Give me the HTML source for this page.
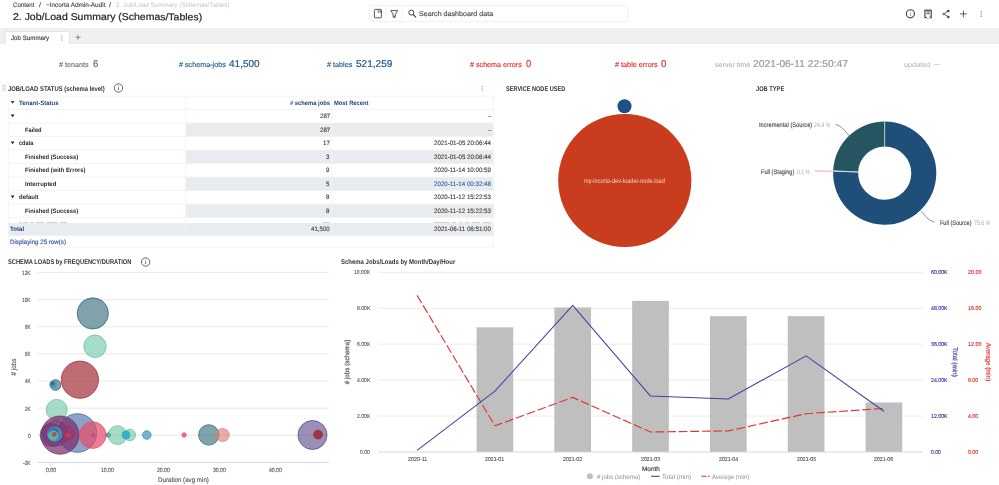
<!DOCTYPE html>
<html lang="en"><head><meta charset="utf-8"><title>2. Job/Load Summary (Schemas/Tables)</title>
<style>
html,body{margin:0;padding:0;background:#fff;}
body{width:999px;height:485px;position:relative;overflow:hidden;font-family:"Liberation Sans",sans-serif;}
svg{position:absolute;left:0;top:0;}
#tx{position:absolute;left:0;top:0;width:999px;height:485px;will-change:transform;}
.t{position:absolute;white-space:pre;line-height:12px;height:12px;transform-origin:0 50%;font-family:"Liberation Sans",sans-serif;}
</style></head>
<body>
<svg width="999" height="485" viewBox="0 0 999 485">
<rect x="0" y="28" width="999" height="15.3" fill="#f0f0f0"/>
<rect x="0" y="42.7" width="999" height="0.8" fill="#e1e4e8"/>
<path d="M5.1 43.6 V33.2 a1.8 1.8 0 0 1 1.8 -1.8 H67.5 a1.8 1.8 0 0 1 1.8 1.8 V43.6 Z" fill="#fff" stroke="#dadee3" stroke-width="0.8"/>
<rect x="5.5" y="42.4" width="63.4" height="1.8" fill="#fff"/>
<circle cx="61.8" cy="35.699999999999996" r="0.55" fill="#777"/>
<circle cx="61.8" cy="37.8" r="0.55" fill="#777"/>
<circle cx="61.8" cy="39.9" r="0.55" fill="#777"/>
<path d="M75.5 37.3 H80.5 M78 34.8 V39.8" stroke="#666" stroke-width="0.7" fill="none"/>
<rect x="369.6" y="5.4" width="258.6" height="16.3" rx="2" fill="#fff" stroke="#ececec" stroke-width="0.8"/>
<path d="M386 5.8 V21.3 M402.2 5.8 V21.3" stroke="#f0f0f0" stroke-width="0.8"/>
<rect x="374.4" y="9.4" width="7" height="8.4" rx="0.8" fill="none" stroke="#444" stroke-width="0.9"/>
<path d="M378.2 9.6 V12.6 L379.3 11.9 L380.4 12.6 V9.6" fill="none" stroke="#444" stroke-width="0.7"/>
<path d="M390.8 10.6 H397.6 L395.3 14.2 V16.3 H393.1 V14.2 Z" fill="none" stroke="#444" stroke-width="0.9" stroke-linejoin="round"/>
<path d="M392.6 17.2 H395.8" stroke="#444" stroke-width="0.8"/>
<circle cx="411.3" cy="12.6" r="2.5" fill="none" stroke="#444" stroke-width="1"/>
<path d="M413.2 14.5 L415.8 17.1" stroke="#444" stroke-width="1.1" stroke-linecap="round"/>
<circle cx="910.4" cy="13.8" r="4.05" fill="none" stroke="#484848" stroke-width="1.15"/>
<path d="M910.4 13.2 V16.1" stroke="#777" stroke-width="0.7"/><circle cx="910.4" cy="11.8" r="0.45" fill="#777"/>
<path d="M924.9 10 H931.2 V17.6 H924.9 Z" fill="#fbfbfb" stroke="#505050" stroke-width="1.25" stroke-linejoin="round"/>
<path d="M926.9 17.9 V15.4 H928.6 L930.2 17.9 Z" fill="#fff"/>
<path d="M929.3 16.2 L931.6 18.1" stroke="#555" stroke-width="0.8"/>
<path d="M926.1 11.6 H930 M926.1 13.4 H930 M928.1 11.6 V14.6" stroke="#6a6a6a" stroke-width="0.8"/>
<path d="M948.2 11 L943.8 13.9 L948.2 16.8" fill="none" stroke="#4a4a4a" stroke-width="0.95"/>
<circle cx="948.3" cy="10.9" r="1.25" fill="#444"/>
<circle cx="943.7" cy="13.9" r="1.25" fill="#777"/>
<circle cx="948.3" cy="16.9" r="1.25" fill="#444"/>
<path d="M960.1 13.9 H966.7 M963.4 10.6 V17.2" stroke="#444" stroke-width="0.85"/>
<circle cx="981.2" cy="11.8" r="0.62" fill="#5a5a5a"/>
<circle cx="981.2" cy="14" r="0.62" fill="#5a5a5a"/>
<circle cx="981.2" cy="16.2" r="0.62" fill="#5a5a5a"/>
<rect x="2.3" y="84.8" width="1.1" height="0.9" fill="#aaa"/>
<rect x="4.5" y="84.8" width="1.1" height="0.9" fill="#aaa"/>
<rect x="2.3" y="86.6" width="1.1" height="0.9" fill="#aaa"/>
<rect x="4.5" y="86.6" width="1.1" height="0.9" fill="#aaa"/>
<rect x="2.3" y="88.39999999999999" width="1.1" height="0.9" fill="#aaa"/>
<rect x="4.5" y="88.39999999999999" width="1.1" height="0.9" fill="#aaa"/>
<rect x="2.3" y="90.2" width="1.1" height="0.9" fill="#aaa"/>
<rect x="4.5" y="90.2" width="1.1" height="0.9" fill="#aaa"/>
<circle cx="118.5" cy="88.0" r="4.2" fill="none" stroke="#333" stroke-width="0.75"/>
<path d="M118.5 87.4 V90.2" stroke="#333" stroke-width="0.7"/><circle cx="118.5" cy="86.0" r="0.45" fill="#333"/>
<circle cx="145.6" cy="262.0" r="4.2" fill="none" stroke="#333" stroke-width="0.75"/>
<path d="M145.6 261.4 V264.2" stroke="#333" stroke-width="0.7"/><circle cx="145.6" cy="260.0" r="0.45" fill="#333"/>
<circle cx="482.1" cy="86.3" r="0.5" fill="#666"/>
<circle cx="482.1" cy="88.3" r="0.5" fill="#666"/>
<circle cx="482.1" cy="90.3" r="0.5" fill="#666"/>
<clipPath id="tb"><rect x="0" y="90" width="500" height="132.9"/></clipPath>
<g clip-path="url(#tb)">
<rect x="185.7" y="123.10" width="307.70" height="13.50" fill="#e9ecef"/>
<rect x="185.7" y="150.10" width="307.70" height="13.50" fill="#e9ecef"/>
<rect x="185.7" y="177.10" width="307.70" height="13.50" fill="#e9ecef"/>
<rect x="185.7" y="204.10" width="307.70" height="13.50" fill="#e9ecef"/>
<rect x="185.7" y="231.10" width="307.70" height="13.50" fill="#e9ecef"/>
<rect x="8.3" y="95.70" width="485.10" height="0.8" fill="#f0f2f4"/>
<rect x="8.3" y="109.20" width="485.10" height="0.8" fill="#f0f2f4"/>
<rect x="8.3" y="122.70" width="485.10" height="0.8" fill="#f0f2f4"/>
<rect x="8.3" y="136.20" width="485.10" height="0.8" fill="#f0f2f4"/>
<rect x="8.3" y="149.70" width="485.10" height="0.8" fill="#f0f2f4"/>
<rect x="8.3" y="163.20" width="485.10" height="0.8" fill="#f0f2f4"/>
<rect x="8.3" y="176.70" width="485.10" height="0.8" fill="#f0f2f4"/>
<rect x="8.3" y="190.20" width="485.10" height="0.8" fill="#f0f2f4"/>
<rect x="8.3" y="203.70" width="485.10" height="0.8" fill="#f0f2f4"/>
<rect x="8.3" y="217.20" width="485.10" height="0.8" fill="#f0f2f4"/>
<rect x="8.3" y="230.70" width="485.10" height="0.8" fill="#f0f2f4"/>
</g>
<rect x="8.3" y="223.0" width="485.10" height="12.8" fill="#e9ecef"/>
<rect x="8.3" y="246.9" width="485.10" height="0.8" fill="#f0f2f4"/>
<rect x="7.90" y="96.1" width="0.8" height="151.20" fill="#f1f3f5"/>
<rect x="185.30" y="96.1" width="0.8" height="139.60" fill="#f1f3f5"/>
<rect x="331.40" y="96.1" width="0.8" height="139.60" fill="#f1f3f5"/>
<rect x="493.00" y="96.1" width="0.8" height="151.20" fill="#f1f3f5"/>
<path d="M10.7 100.94999999999999 H14.5 L12.6 103.64999999999999 Z" fill="#24407f"/>
<path d="M10.7 114.44999999999999 H14.5 L12.6 117.14999999999999 Z" fill="#222"/>
<path d="M10.7 141.45 H14.5 L12.6 144.14999999999998 Z" fill="#222"/>
<path d="M10.7 195.45 H14.5 L12.6 198.14999999999998 Z" fill="#222"/>
<g fill="#888" opacity="0.45">
<rect x="19.5" y="221.9" width="2" height="0.9"/>
<rect x="23" y="221.9" width="5" height="0.9"/>
<rect x="30.5" y="221.9" width="3" height="0.9"/>
<rect x="36" y="221.9" width="8" height="0.9"/>
<rect x="47" y="221.9" width="10" height="0.9"/>
<rect x="60" y="221.9" width="7" height="0.9"/>
<rect x="322.5" y="221.9" width="7.2" height="0.9"/>
<rect x="433.5" y="221.9" width="16" height="0.9"/>
<rect x="452" y="221.9" width="4" height="0.9"/>
<rect x="459" y="221.9" width="3" height="0.9"/>
<rect x="465" y="221.9" width="4" height="0.9"/>
<rect x="472" y="221.9" width="8" height="0.9"/>
<rect x="483" y="221.9" width="8" height="0.9"/>
</g>
<circle cx="624.8" cy="180.5" r="66.6" fill="#c93d1e"/>
<circle cx="624.5" cy="106.3" r="7" fill="#1e4f86"/>
<path d="M884.70 121.50 A51.6 51.6 0 1 1 833.14 171.16 L858.12 172.10 A26.6 26.6 0 1 0 884.70 146.50 Z" fill="#1f4e79"/>
<path d="M833.14 171.16 A51.6 51.6 0 0 1 833.15 170.83 L858.13 171.93 A26.6 26.6 0 0 0 858.12 172.10 Z" fill="#e8907f"/>
<path d="M833.15 170.83 A51.6 51.6 0 0 1 884.70 121.50 L884.70 146.50 A26.6 26.6 0 0 0 858.13 171.93 Z" fill="#255560"/>
<path d="M884.70 121.50 L884.70 146.50" stroke="#d7dde0" stroke-width="0.8"/>
<path d="M833.14 171.16 L858.12 172.10" stroke="#d7dde0" stroke-width="0.8"/>
<path d="M833.15 170.83 L858.13 171.93" stroke="#d7dde0" stroke-width="0.8"/>
<path d="M835.4 124.4 C840.3 125.2 845.2 130.8 849.6 136.4" fill="none" stroke="#5d8c96" stroke-width="0.9"/>
<path d="M814.6 170.9 L833.3 171.3" fill="none" stroke="#e8907f" stroke-width="0.8"/>
<path d="M921.4 211.2 C924.6 215.4 929 220.9 934.4 222.1" fill="none" stroke="#5f84ab" stroke-width="0.9"/>
<rect x="37.6" y="271.86" width="291.20" height="1.2" fill="#ececec"/>
<rect x="37.6" y="299.00" width="291.20" height="1.2" fill="#ececec"/>
<rect x="37.6" y="326.14" width="291.20" height="1.2" fill="#ececec"/>
<rect x="37.6" y="353.28" width="291.20" height="1.2" fill="#ececec"/>
<rect x="37.6" y="380.42" width="291.20" height="1.2" fill="#ececec"/>
<rect x="37.6" y="407.56" width="291.20" height="1.2" fill="#ececec"/>
<rect x="37.6" y="434.70" width="291.20" height="1.2" fill="#ececec"/>
<rect x="37.6" y="461.99" width="291.20" height="0.9" fill="#ccd6eb"/>
<rect x="50.30" y="462.44" width="0.8" height="3.2" fill="#ccd6eb"/>
<rect x="106.40" y="462.44" width="0.8" height="3.2" fill="#ccd6eb"/>
<rect x="162.50" y="462.44" width="0.8" height="3.2" fill="#ccd6eb"/>
<rect x="218.60" y="462.44" width="0.8" height="3.2" fill="#ccd6eb"/>
<rect x="274.70" y="462.44" width="0.8" height="3.2" fill="#ccd6eb"/>
<circle cx="92.8" cy="313.4" r="15.6" fill="#2c6673" fill-opacity="0.6" stroke="#2c6673" stroke-opacity="0.95" stroke-width="0.8"/>
<circle cx="95.0" cy="346.3" r="11.2" fill="#5fc09c" fill-opacity="0.55" stroke="#5fc09c" stroke-opacity="0.95" stroke-width="0.8"/>
<circle cx="79.9" cy="379.7" r="18.6" fill="#a02833" fill-opacity="0.68" stroke="#a02833" stroke-opacity="0.95" stroke-width="0.8"/>
<circle cx="55.6" cy="385.0" r="5.3" fill="#2c6673" fill-opacity="0.6" stroke="#2c6673" stroke-opacity="0.95" stroke-width="0.8"/>
<circle cx="53.0" cy="384.4" r="3.3" fill="#3f95b8" fill-opacity="0.8" stroke="#3f95b8" stroke-opacity="0.95" stroke-width="0.8"/>
<circle cx="52.6" cy="383.6" r="1.4" fill="#2c6673" fill-opacity="0.9" stroke="#2c6673" stroke-opacity="0.95" stroke-width="0.8"/>
<circle cx="56.7" cy="409.9" r="10.5" fill="#5fc09c" fill-opacity="0.55" stroke="#5fc09c" stroke-opacity="0.95" stroke-width="0.8"/>
<circle cx="51.5" cy="435.0" r="11.4" fill="#3a68a0" fill-opacity="0.62" stroke="#3a68a0" stroke-opacity="0.95" stroke-width="0.8"/>
<circle cx="77.4" cy="433.0" r="19.3" fill="#3a68a0" fill-opacity="0.6" stroke="#3a68a0" stroke-opacity="0.95" stroke-width="0.8"/>
<circle cx="60.0" cy="435.1" r="19.1" fill="#7a2c6c" fill-opacity="0.72" stroke="#7a2c6c" stroke-opacity="0.95" stroke-width="0.8"/>
<circle cx="55.5" cy="433.5" r="12.5" fill="#7a2c6c" fill-opacity="0.35" stroke="#7a2c6c" stroke-opacity="0.95" stroke-width="0.8"/>
<circle cx="67.1" cy="433.3" r="7.3" fill="#a02f6a" fill-opacity="0.5" stroke="#a02f6a" stroke-opacity="0.95" stroke-width="0.8"/>
<circle cx="92.7" cy="435.1" r="13.3" fill="#e84c6c" fill-opacity="0.72" stroke="#e84c6c" stroke-opacity="0.95" stroke-width="0.8"/>
<circle cx="54.8" cy="434.1" r="7.2" fill="#25a9d0" fill-opacity="0.75" stroke="#25a9d0" stroke-opacity="0.95" stroke-width="0.8"/>
<circle cx="53.6" cy="432.2" r="4.2" fill="#3a68a0" fill-opacity="0.7" stroke="#3a68a0" stroke-opacity="0.95" stroke-width="0.8"/>
<circle cx="53.2" cy="435.6" r="4.6" fill="#5fc09c" fill-opacity="0.8" stroke="#5fc09c" stroke-opacity="0.95" stroke-width="0.8"/>
<circle cx="54.3" cy="434.2" r="2.0" fill="#d8364a" fill-opacity="0.85" stroke="#d8364a" stroke-opacity="0.95" stroke-width="0.8"/>
<circle cx="67.6" cy="435.1" r="2.1" fill="#d83a3a" fill-opacity="0.9" stroke="#d83a3a" stroke-opacity="0.95" stroke-width="0.8"/>
<circle cx="93.2" cy="435.1" r="1.9" fill="#c84a86" fill-opacity="0.7" stroke="#c84a86" stroke-opacity="0.95" stroke-width="0.8"/>
<circle cx="108.4" cy="435.0" r="2.2" fill="#2c6673" fill-opacity="0.6" stroke="#2c6673" stroke-opacity="0.95" stroke-width="0.8"/>
<circle cx="117.5" cy="435.1" r="9.4" fill="#5fc09c" fill-opacity="0.55" stroke="#5fc09c" stroke-opacity="0.95" stroke-width="0.8"/>
<circle cx="129.8" cy="435.0" r="5.7" fill="#5fc09c" fill-opacity="0.55" stroke="#5fc09c" stroke-opacity="0.95" stroke-width="0.8"/>
<circle cx="126.0" cy="435.0" r="4.0" fill="#25a9d0" fill-opacity="0.8" stroke="#25a9d0" stroke-opacity="0.95" stroke-width="0.8"/>
<circle cx="146.8" cy="435.0" r="4.3" fill="#3f95b8" fill-opacity="0.7" stroke="#3f95b8" stroke-opacity="0.95" stroke-width="0.8"/>
<circle cx="184.1" cy="435.0" r="2.2" fill="#e84c6c" fill-opacity="0.8" stroke="#e84c6c" stroke-opacity="0.95" stroke-width="0.8"/>
<circle cx="208.8" cy="434.9" r="10.2" fill="#2c6673" fill-opacity="0.6" stroke="#2c6673" stroke-opacity="0.95" stroke-width="0.8"/>
<circle cx="222.7" cy="435.0" r="6.5" fill="#d98174" fill-opacity="0.65" stroke="#d98174" stroke-opacity="0.95" stroke-width="0.8"/>
<circle cx="312.5" cy="435.0" r="14.5" fill="#5c4a8a" fill-opacity="0.62" stroke="#5c4a8a" stroke-opacity="0.95" stroke-width="0.8"/>
<circle cx="318.0" cy="434.6" r="4.4" fill="#a02436" fill-opacity="0.85" stroke="#a02436" stroke-opacity="0.95" stroke-width="0.8"/>
<rect x="378.2" y="415.46" width="545.10" height="1.2" fill="#efefef"/>
<rect x="378.2" y="379.52" width="545.10" height="1.2" fill="#efefef"/>
<rect x="378.2" y="343.58" width="545.10" height="1.2" fill="#efefef"/>
<rect x="378.2" y="307.64" width="545.10" height="1.2" fill="#efefef"/>
<rect x="378.2" y="271.70" width="545.10" height="1.2" fill="#efefef"/>
<rect x="476.55" y="327.3" width="36.7" height="124.70" fill="#bfbfbf"/>
<rect x="554.35" y="307.5" width="36.7" height="144.50" fill="#bfbfbf"/>
<rect x="632.15" y="300.9" width="36.7" height="151.10" fill="#bfbfbf"/>
<rect x="709.95" y="316.2" width="36.7" height="135.80" fill="#bfbfbf"/>
<rect x="787.75" y="316.2" width="36.7" height="135.80" fill="#bfbfbf"/>
<rect x="865.55" y="402.5" width="36.7" height="49.50" fill="#bfbfbf"/>
<rect x="378.2" y="451.55" width="545.10" height="0.9" fill="#ccd6eb"/>
<polyline points="417.10,295.4 494.90,425.8 572.70,397.4 650.50,432.0 728.30,430.9 806.10,413.7 883.90,408.4" fill="none" stroke="#e2352f" stroke-width="1.15" stroke-dasharray="8.8 2.8" stroke-linejoin="round"/>
<polyline points="417.10,450.4 494.90,391.2 572.70,305.3 650.50,396.1 728.30,399.0 806.10,355.9 883.90,411.3" fill="none" stroke="#4044a3" stroke-width="1.05" stroke-linejoin="round"/>
<circle cx="589.9" cy="476.3" r="3" fill="#bfbfbf"/>
<path d="M651.2 476.3 H659.6" stroke="#4044a3" stroke-width="1.1"/>
<path d="M701.2 476.3 H709.8" stroke="#e2352f" stroke-width="1.1" stroke-dasharray="5.5 1.2"/>
</svg>
<div id="tx">
<span class="t" style="font-size:6.40px;font-weight:400;color:#4a4a4a;-webkit-text-stroke:0.14px #4a4a4a;left:12.50px;top:-1.23px;transform:skewY(0.05deg) scaleX(0.9547);">Content</span>
<span class="t" style="font-size:6.40px;font-weight:400;color:#4a4a4a;-webkit-text-stroke:0.14px #4a4a4a;left:39.00px;top:-1.23px;transform:skewY(0.05deg) scaleX(1.1242);">/</span>
<span class="t" style="font-size:6.40px;font-weight:400;color:#4a4a4a;-webkit-text-stroke:0.14px #4a4a4a;left:45.50px;top:-1.23px;transform:skewY(0.05deg) scaleX(0.9985);">~Incorta Admin-Audit</span>
<span class="t" style="font-size:6.40px;font-weight:400;color:#4a4a4a;-webkit-text-stroke:0.14px #4a4a4a;left:109.30px;top:-1.23px;transform:skewY(0.05deg) scaleX(1.1242);">/</span>
<span class="t" style="font-size:6.40px;font-weight:400;color:#c4c4c4;left:116.30px;top:-1.23px;transform:skewY(0.05deg) scaleX(0.9835);">2. Job/Load Summary (Schemas/Tables)</span>
<span class="t" style="font-size:9.90px;font-weight:400;color:#262626;-webkit-text-stroke:0.22px #262626;left:12.90px;top:11.31px;transform:skewY(0.05deg) scaleX(1.0602);">2. Job/Load Summary (Schemas/Tables)</span>
<span class="t" style="font-size:6.40px;font-weight:400;color:#3c3c3c;-webkit-text-stroke:0.14px #3c3c3c;left:11.20px;top:32.47px;transform:skewY(0.05deg) scaleX(0.9676);">Job Summary</span>
<span class="t" style="font-size:7.00px;font-weight:400;color:#4a4a4a;-webkit-text-stroke:0.15px #4a4a4a;left:418.60px;top:8.48px;transform:skewY(0.05deg) scaleX(1.0196);">Search dashboard data</span>
<span class="t" style="font-size:7.20px;font-weight:400;color:#777;-webkit-text-stroke:0.16px #777;left:59.20px;top:58.88px;transform:skewY(0.05deg) scaleX(0.9992);"># tenants</span>
<span class="t" style="font-size:10.00px;font-weight:400;color:#6a6a6a;-webkit-text-stroke:0.22px #6a6a6a;left:93.00px;top:58.37px;transform:skewY(0.05deg) scaleX(0.9528);">6</span>
<span class="t" style="font-size:7.20px;font-weight:400;color:#2a5f92;-webkit-text-stroke:0.16px #2a5f92;left:178.60px;top:58.88px;transform:skewY(0.05deg) scaleX(1.0017);"># schema-jobs</span>
<span class="t" style="font-size:10.00px;font-weight:400;color:#1f578c;-webkit-text-stroke:0.22px #1f578c;left:229.30px;top:58.37px;transform:skewY(0.05deg) scaleX(1.0005);">41,500</span>
<span class="t" style="font-size:7.20px;font-weight:400;color:#2a5f92;-webkit-text-stroke:0.16px #2a5f92;left:326.90px;top:58.88px;transform:skewY(0.05deg) scaleX(1.0033);"># tables</span>
<span class="t" style="font-size:10.00px;font-weight:400;color:#1f578c;-webkit-text-stroke:0.22px #1f578c;left:356.20px;top:58.37px;transform:skewY(0.05deg) scaleX(1.0070);">521,259</span>
<span class="t" style="font-size:7.20px;font-weight:400;color:#e5322d;-webkit-text-stroke:0.16px #e5322d;left:470.00px;top:58.88px;transform:skewY(0.05deg) scaleX(0.9958);"># schema errors</span>
<span class="t" style="font-size:10.00px;font-weight:400;color:#e5322d;-webkit-text-stroke:0.22px #e5322d;left:526.00px;top:58.37px;transform:skewY(0.05deg) scaleX(0.9348);">0</span>
<span class="t" style="font-size:7.20px;font-weight:400;color:#e5322d;-webkit-text-stroke:0.16px #e5322d;left:615.20px;top:58.88px;transform:skewY(0.05deg) scaleX(1.0089);"># table errors</span>
<span class="t" style="font-size:10.00px;font-weight:400;color:#e5322d;-webkit-text-stroke:0.22px #e5322d;left:661.20px;top:58.37px;transform:skewY(0.05deg) scaleX(0.9708);">0</span>
<span class="t" style="font-size:7.00px;font-weight:400;color:#a5a5a5;left:714.60px;top:58.88px;transform:skewY(0.05deg) scaleX(1.0168);">server time</span>
<span class="t" style="font-size:10.00px;font-weight:400;color:#9a9a9a;-webkit-text-stroke:0.22px #9a9a9a;left:753.40px;top:58.37px;transform:skewY(0.05deg) scaleX(1.0313);">2021-06-11 22:50:47</span>
<span class="t" style="font-size:7.00px;font-weight:400;color:#b0b0b0;left:904.30px;top:58.88px;transform:skewY(0.05deg) scaleX(1.0433);">updated</span>
<span class="t" style="font-size:5.60px;font-weight:400;color:#b0b0b0;-webkit-text-stroke:0.12px #b0b0b0;left:934.00px;top:57.81px;transform:skewY(0.05deg) scaleX(0.8990);">––</span>
<span class="t" style="font-size:6.80px;font-weight:700;color:#333;left:8.30px;top:82.68px;transform:skewY(0.05deg) scaleX(0.8636);">JOB/LOAD STATUS (schema level)</span>
<span class="t" style="font-size:6.80px;font-weight:700;color:#333;left:506.00px;top:82.68px;transform:skewY(0.05deg) scaleX(0.8217);">SERVICE NODE USED</span>
<span class="t" style="font-size:6.80px;font-weight:700;color:#333;left:755.80px;top:82.68px;transform:skewY(0.05deg) scaleX(0.8385);">JOB TYPE</span>
<span class="t" style="font-size:6.80px;font-weight:700;color:#333;left:8.40px;top:256.18px;transform:skewY(0.05deg) scaleX(0.8425);">SCHEMA LOADS by FREQUENCY/DURATION</span>
<span class="t" style="font-size:6.80px;font-weight:700;color:#333;left:341.40px;top:256.18px;transform:skewY(0.05deg) scaleX(0.8794);">Schema Jobs/Loads by Month/Day/Hour</span>
<span class="t" style="font-size:6.30px;font-weight:700;color:#24407f;left:19.00px;top:96.62px;transform:skewY(0.05deg) scaleX(0.9534);">Tenant-Status</span>
<span class="t" style="font-size:6.30px;font-weight:700;color:#24407f;left:289.80px;top:96.62px;transform:skewY(0.05deg) scaleX(0.9212);"># schema jobs</span>
<span class="t" style="font-size:6.30px;font-weight:700;color:#24407f;left:334.00px;top:96.62px;transform:skewY(0.05deg) scaleX(0.9211);">Most Recent</span>
<span class="t" style="font-size:6.30px;font-weight:400;color:#444;-webkit-text-stroke:0.14px #444;left:319.54px;top:110.12px;transform:skewY(0.05deg) scaleX(0.9760);">287</span>
<span class="t" style="font-size:6.30px;font-weight:400;color:#777;-webkit-text-stroke:0.14px #777;left:488.00px;top:110.42px;transform:skewY(0.05deg) scaleX(0.9417);">–</span>
<span class="t" style="font-size:6.30px;font-weight:700;color:#2b2b2b;left:25.00px;top:123.62px;transform:skewY(0.05deg) scaleX(0.9118);">Failed</span>
<span class="t" style="font-size:6.30px;font-weight:400;color:#444;-webkit-text-stroke:0.14px #444;left:319.54px;top:123.62px;transform:skewY(0.05deg) scaleX(0.9760);">287</span>
<span class="t" style="font-size:6.30px;font-weight:400;color:#777;-webkit-text-stroke:0.14px #777;left:488.00px;top:123.92px;transform:skewY(0.05deg) scaleX(0.9417);">–</span>
<span class="t" style="font-size:6.30px;font-weight:700;color:#2b2b2b;left:19.00px;top:137.12px;transform:skewY(0.05deg) scaleX(0.8750);">cdata</span>
<span class="t" style="font-size:6.30px;font-weight:400;color:#444;-webkit-text-stroke:0.14px #444;left:322.96px;top:137.12px;transform:skewY(0.05deg) scaleX(0.9761);">17</span>
<span class="t" style="font-size:6.30px;font-weight:400;color:#444;-webkit-text-stroke:0.14px #444;left:434.20px;top:137.12px;transform:skewY(0.05deg) scaleX(0.9744);">2021-01-05 20:06:44</span>
<span class="t" style="font-size:6.30px;font-weight:700;color:#2b2b2b;left:25.00px;top:150.62px;transform:skewY(0.05deg) scaleX(0.9283);">Finished (Success)</span>
<span class="t" style="font-size:6.30px;font-weight:400;color:#444;-webkit-text-stroke:0.14px #444;left:326.38px;top:150.62px;transform:skewY(0.05deg) scaleX(0.9759);">3</span>
<span class="t" style="font-size:6.30px;font-weight:400;color:#444;-webkit-text-stroke:0.14px #444;left:434.20px;top:150.62px;transform:skewY(0.05deg) scaleX(0.9744);">2021-01-05 20:06:44</span>
<span class="t" style="font-size:6.30px;font-weight:700;color:#2b2b2b;left:25.00px;top:164.12px;transform:skewY(0.05deg) scaleX(0.9293);">Finished (with Errors)</span>
<span class="t" style="font-size:6.30px;font-weight:400;color:#444;-webkit-text-stroke:0.14px #444;left:326.38px;top:164.12px;transform:skewY(0.05deg) scaleX(0.9759);">9</span>
<span class="t" style="font-size:6.30px;font-weight:400;color:#444;-webkit-text-stroke:0.14px #444;left:434.20px;top:164.12px;transform:skewY(0.05deg) scaleX(0.9822);">2020-11-14 10:00:59</span>
<span class="t" style="font-size:6.30px;font-weight:700;color:#2b2b2b;left:25.00px;top:177.62px;transform:skewY(0.05deg) scaleX(0.9413);">Interrupted</span>
<span class="t" style="font-size:6.30px;font-weight:400;color:#444;-webkit-text-stroke:0.14px #444;left:326.38px;top:177.62px;transform:skewY(0.05deg) scaleX(0.9759);">5</span>
<span class="t" style="font-size:6.30px;font-weight:400;color:#3a66b0;-webkit-text-stroke:0.14px #3a66b0;left:434.20px;top:177.62px;transform:skewY(0.05deg) scaleX(0.9822);">2020-11-14 00:32:48</span>
<span class="t" style="font-size:6.30px;font-weight:700;color:#2b2b2b;left:19.00px;top:191.12px;transform:skewY(0.05deg) scaleX(0.9491);">default</span>
<span class="t" style="font-size:6.30px;font-weight:400;color:#444;-webkit-text-stroke:0.14px #444;left:326.38px;top:191.12px;transform:skewY(0.05deg) scaleX(0.9759);">8</span>
<span class="t" style="font-size:6.30px;font-weight:400;color:#444;-webkit-text-stroke:0.14px #444;left:434.20px;top:191.12px;transform:skewY(0.05deg) scaleX(0.9822);">2020-11-12 15:22:53</span>
<span class="t" style="font-size:6.30px;font-weight:700;color:#2b2b2b;left:25.00px;top:204.62px;transform:skewY(0.05deg) scaleX(0.9283);">Finished (Success)</span>
<span class="t" style="font-size:6.30px;font-weight:400;color:#444;-webkit-text-stroke:0.14px #444;left:326.38px;top:204.62px;transform:skewY(0.05deg) scaleX(0.9759);">8</span>
<span class="t" style="font-size:6.30px;font-weight:400;color:#444;-webkit-text-stroke:0.14px #444;left:434.20px;top:204.62px;transform:skewY(0.05deg) scaleX(0.9822);">2020-11-12 15:22:53</span>
<span class="t" style="font-size:6.30px;font-weight:700;color:#24407f;left:10.00px;top:223.17px;transform:skewY(0.05deg) scaleX(0.9738);">Total</span>
<span class="t" style="font-size:6.30px;font-weight:400;color:#444;-webkit-text-stroke:0.14px #444;left:311.00px;top:223.17px;transform:skewY(0.05deg) scaleX(0.9757);">41,500</span>
<span class="t" style="font-size:6.30px;font-weight:400;color:#444;-webkit-text-stroke:0.14px #444;left:434.20px;top:223.17px;transform:skewY(0.05deg) scaleX(0.9822);">2021-06-11 06:51:00</span>
<span class="t" style="font-size:6.30px;font-weight:400;color:#2f55a0;-webkit-text-stroke:0.14px #2f55a0;left:10.00px;top:236.17px;transform:skewY(0.05deg) scaleX(0.9813);">Displaying 25 row(s)</span>
<span class="t" style="font-size:6.50px;font-weight:400;color:#f4cdc2;left:584.00px;top:175.07px;transform:skewY(0.05deg) scaleX(0.8602);">my-incorta-dev-loader-node.load</span>
<span class="t" style="font-size:6.60px;font-weight:400;color:#505050;-webkit-text-stroke:0.15px #505050;left:758.60px;top:119.28px;transform:skewY(0.05deg) scaleX(0.8649);">Incremental (Source)</span>
<span class="t" style="font-size:6.60px;font-weight:400;color:#a8a8a8;left:814.00px;top:119.28px;transform:skewY(0.05deg) scaleX(0.7981);">24.4 %</span>
<span class="t" style="font-size:6.60px;font-weight:400;color:#505050;-webkit-text-stroke:0.15px #505050;left:761.00px;top:165.58px;transform:skewY(0.05deg) scaleX(0.8484);">Full (Staging)</span>
<span class="t" style="font-size:6.60px;font-weight:400;color:#a8a8a8;left:796.50px;top:165.58px;transform:skewY(0.05deg) scaleX(0.7643);">0.1 %</span>
<span class="t" style="font-size:6.60px;font-weight:400;color:#505050;-webkit-text-stroke:0.15px #505050;left:939.80px;top:216.78px;transform:skewY(0.05deg) scaleX(0.8338);">Full (Source)</span>
<span class="t" style="font-size:6.60px;font-weight:400;color:#a8a8a8;left:973.60px;top:216.78px;transform:skewY(0.05deg) scaleX(0.7981);">75.6 %</span>
<span class="t" style="font-size:6.00px;font-weight:400;color:#555;-webkit-text-stroke:0.13px #555;left:21.80px;top:266.83px;transform:skewY(0.05deg) scaleX(0.7868);">12K</span>
<span class="t" style="font-size:6.00px;font-weight:400;color:#555;-webkit-text-stroke:0.13px #555;left:21.80px;top:293.97px;transform:skewY(0.05deg) scaleX(0.7868);">10K</span>
<span class="t" style="font-size:6.00px;font-weight:400;color:#555;-webkit-text-stroke:0.13px #555;left:24.60px;top:321.11px;transform:skewY(0.05deg) scaleX(0.7630);">8K</span>
<span class="t" style="font-size:6.00px;font-weight:400;color:#555;-webkit-text-stroke:0.13px #555;left:24.60px;top:348.25px;transform:skewY(0.05deg) scaleX(0.7630);">6K</span>
<span class="t" style="font-size:6.00px;font-weight:400;color:#555;-webkit-text-stroke:0.13px #555;left:24.60px;top:375.39px;transform:skewY(0.05deg) scaleX(0.7630);">4K</span>
<span class="t" style="font-size:6.00px;font-weight:400;color:#555;-webkit-text-stroke:0.13px #555;left:24.60px;top:402.53px;transform:skewY(0.05deg) scaleX(0.7630);">2K</span>
<span class="t" style="font-size:6.00px;font-weight:400;color:#555;-webkit-text-stroke:0.13px #555;left:27.50px;top:429.67px;transform:skewY(0.05deg) scaleX(0.8090);">0</span>
<span class="t" style="font-size:6.00px;font-weight:400;color:#555;-webkit-text-stroke:0.13px #555;left:22.60px;top:456.81px;transform:skewY(0.05deg) scaleX(0.8139);">-2K</span>
<span class="t" style="font-size:6.00px;font-weight:400;color:#555;-webkit-text-stroke:0.13px #555;left:45.90px;top:464.37px;transform:skewY(0.05deg) scaleX(0.8734);">0.00</span>
<span class="t" style="font-size:6.00px;font-weight:400;color:#555;-webkit-text-stroke:0.13px #555;left:100.70px;top:464.37px;transform:skewY(0.05deg) scaleX(0.8525);">10.00</span>
<span class="t" style="font-size:6.00px;font-weight:400;color:#555;-webkit-text-stroke:0.13px #555;left:156.80px;top:464.37px;transform:skewY(0.05deg) scaleX(0.8525);">20.00</span>
<span class="t" style="font-size:6.00px;font-weight:400;color:#555;-webkit-text-stroke:0.13px #555;left:212.90px;top:464.37px;transform:skewY(0.05deg) scaleX(0.8525);">30.00</span>
<span class="t" style="font-size:6.00px;font-weight:400;color:#555;-webkit-text-stroke:0.13px #555;left:269.00px;top:464.37px;transform:skewY(0.05deg) scaleX(0.8525);">40.00</span>
<span class="t" style="font-size:6.70px;font-weight:400;color:#5a5a5a;-webkit-text-stroke:0.15px #5a5a5a;left:158.20px;top:473.88px;transform:skewY(0.05deg) scaleX(0.9254);">Duration (avg min)</span>
<span class="t" style="font-size:6.80px;font-weight:400;color:#5a5a5a;-webkit-text-stroke:0.15px #5a5a5a;left:4.93px;top:361.00px;transform:rotate(-90deg) skewY(0.05deg) scaleX(0.9368);transform-origin:9.07px 6.0px;"># jobs</span>
<span class="t" style="font-size:5.60px;font-weight:400;color:#5e5e5e;-webkit-text-stroke:0.12px #5e5e5e;left:360.40px;top:446.06px;transform:skewY(0.05deg) scaleX(0.8991);">0.00</span>
<span class="t" style="font-size:5.60px;font-weight:400;color:#5e5e5e;-webkit-text-stroke:0.12px #5e5e5e;left:356.80px;top:410.12px;transform:skewY(0.05deg) scaleX(0.9157);">2.00K</span>
<span class="t" style="font-size:5.60px;font-weight:400;color:#5e5e5e;-webkit-text-stroke:0.12px #5e5e5e;left:356.80px;top:374.18px;transform:skewY(0.05deg) scaleX(0.9157);">4.00K</span>
<span class="t" style="font-size:5.60px;font-weight:400;color:#5e5e5e;-webkit-text-stroke:0.12px #5e5e5e;left:356.80px;top:338.24px;transform:skewY(0.05deg) scaleX(0.9157);">6.00K</span>
<span class="t" style="font-size:5.60px;font-weight:400;color:#5e5e5e;-webkit-text-stroke:0.12px #5e5e5e;left:356.80px;top:302.30px;transform:skewY(0.05deg) scaleX(0.9157);">8.00K</span>
<span class="t" style="font-size:5.60px;font-weight:400;color:#5e5e5e;-webkit-text-stroke:0.12px #5e5e5e;left:354.00px;top:266.36px;transform:skewY(0.05deg) scaleX(0.9127);">10.00K</span>
<span class="t" style="font-size:5.60px;font-weight:400;color:#33369a;-webkit-text-stroke:0.12px #33369a;left:931.20px;top:446.06px;transform:skewY(0.05deg) scaleX(0.8991);">0.00</span>
<span class="t" style="font-size:5.60px;font-weight:400;color:#33369a;-webkit-text-stroke:0.12px #33369a;left:931.20px;top:410.12px;transform:skewY(0.05deg) scaleX(0.9352);">12.00K</span>
<span class="t" style="font-size:5.60px;font-weight:400;color:#33369a;-webkit-text-stroke:0.12px #33369a;left:931.20px;top:374.18px;transform:skewY(0.05deg) scaleX(0.9352);">24.00K</span>
<span class="t" style="font-size:5.60px;font-weight:400;color:#33369a;-webkit-text-stroke:0.12px #33369a;left:931.20px;top:338.24px;transform:skewY(0.05deg) scaleX(0.9352);">36.00K</span>
<span class="t" style="font-size:5.60px;font-weight:400;color:#33369a;-webkit-text-stroke:0.12px #33369a;left:931.20px;top:302.30px;transform:skewY(0.05deg) scaleX(0.9352);">48.00K</span>
<span class="t" style="font-size:5.60px;font-weight:400;color:#33369a;-webkit-text-stroke:0.12px #33369a;left:931.20px;top:266.36px;transform:skewY(0.05deg) scaleX(0.9352);">60.00K</span>
<span class="t" style="font-size:5.60px;font-weight:400;color:#e32a25;-webkit-text-stroke:0.12px #e32a25;left:967.50px;top:446.06px;transform:skewY(0.05deg) scaleX(0.9174);">0.00</span>
<span class="t" style="font-size:5.60px;font-weight:400;color:#e32a25;-webkit-text-stroke:0.12px #e32a25;left:967.50px;top:410.12px;transform:skewY(0.05deg) scaleX(0.9174);">4.00</span>
<span class="t" style="font-size:5.60px;font-weight:400;color:#e32a25;-webkit-text-stroke:0.12px #e32a25;left:967.50px;top:374.18px;transform:skewY(0.05deg) scaleX(0.9174);">8.00</span>
<span class="t" style="font-size:5.60px;font-weight:400;color:#e32a25;-webkit-text-stroke:0.12px #e32a25;left:967.50px;top:338.24px;transform:skewY(0.05deg) scaleX(0.9562);">12.00</span>
<span class="t" style="font-size:5.60px;font-weight:400;color:#e32a25;-webkit-text-stroke:0.12px #e32a25;left:967.50px;top:302.30px;transform:skewY(0.05deg) scaleX(0.9562);">16.00</span>
<span class="t" style="font-size:5.60px;font-weight:400;color:#e32a25;-webkit-text-stroke:0.12px #e32a25;left:967.50px;top:266.36px;transform:skewY(0.05deg) scaleX(0.9562);">20.00</span>
<span class="t" style="font-size:5.60px;font-weight:400;color:#555;-webkit-text-stroke:0.12px #555;left:407.50px;top:453.26px;transform:skewY(0.05deg) scaleX(0.9535);">2020-11</span>
<span class="t" style="font-size:5.60px;font-weight:400;color:#555;-webkit-text-stroke:0.12px #555;left:485.30px;top:453.26px;transform:skewY(0.05deg) scaleX(0.9342);">2021-01</span>
<span class="t" style="font-size:5.60px;font-weight:400;color:#555;-webkit-text-stroke:0.12px #555;left:563.10px;top:453.26px;transform:skewY(0.05deg) scaleX(0.9342);">2021-02</span>
<span class="t" style="font-size:5.60px;font-weight:400;color:#555;-webkit-text-stroke:0.12px #555;left:640.90px;top:453.26px;transform:skewY(0.05deg) scaleX(0.9342);">2021-03</span>
<span class="t" style="font-size:5.60px;font-weight:400;color:#555;-webkit-text-stroke:0.12px #555;left:718.70px;top:453.26px;transform:skewY(0.05deg) scaleX(0.9342);">2021-04</span>
<span class="t" style="font-size:5.60px;font-weight:400;color:#555;-webkit-text-stroke:0.12px #555;left:796.50px;top:453.26px;transform:skewY(0.05deg) scaleX(0.9342);">2021-05</span>
<span class="t" style="font-size:5.60px;font-weight:400;color:#555;-webkit-text-stroke:0.12px #555;left:874.30px;top:453.26px;transform:skewY(0.05deg) scaleX(0.9342);">2021-06</span>
<span class="t" style="font-size:6.60px;font-weight:400;color:#3c3c3c;-webkit-text-stroke:0.15px #3c3c3c;left:641.80px;top:463.38px;transform:skewY(0.05deg) scaleX(0.9704);">Month</span>
<span class="t" style="font-size:6.50px;font-weight:400;color:#8f8f8f;left:597.20px;top:471.07px;transform:skewY(0.05deg) scaleX(0.9342);"># jobs (schema)</span>
<span class="t" style="font-size:6.50px;font-weight:400;color:#8f8f8f;left:662.00px;top:471.07px;transform:skewY(0.05deg) scaleX(0.9559);">Total (min)</span>
<span class="t" style="font-size:6.50px;font-weight:400;color:#8f8f8f;left:711.80px;top:471.07px;transform:skewY(0.05deg) scaleX(0.9140);">Average (min)</span>
<span class="t" style="font-size:6.80px;font-weight:400;color:#4d4d4d;-webkit-text-stroke:0.15px #4d4d4d;left:322.81px;top:356.00px;transform:rotate(-90deg) skewY(0.05deg) scaleX(0.9199);transform-origin:24.19px 6.0px;"># jobs (schema)</span>
<span class="t" style="font-size:6.80px;font-weight:400;color:#33369a;-webkit-text-stroke:0.15px #33369a;left:939.13px;top:356.00px;transform:rotate(90deg) skewY(0.05deg) scaleX(0.9295);transform-origin:15.87px 6.0px;">Total (min)</span>
<span class="t" style="font-size:6.80px;font-weight:400;color:#e32a25;-webkit-text-stroke:0.15px #e32a25;left:967.21px;top:356.20px;transform:rotate(90deg) skewY(0.05deg) scaleX(0.9018);transform-origin:21.29px 6.0px;">Average (min)</span>
</div>
</body></html>
